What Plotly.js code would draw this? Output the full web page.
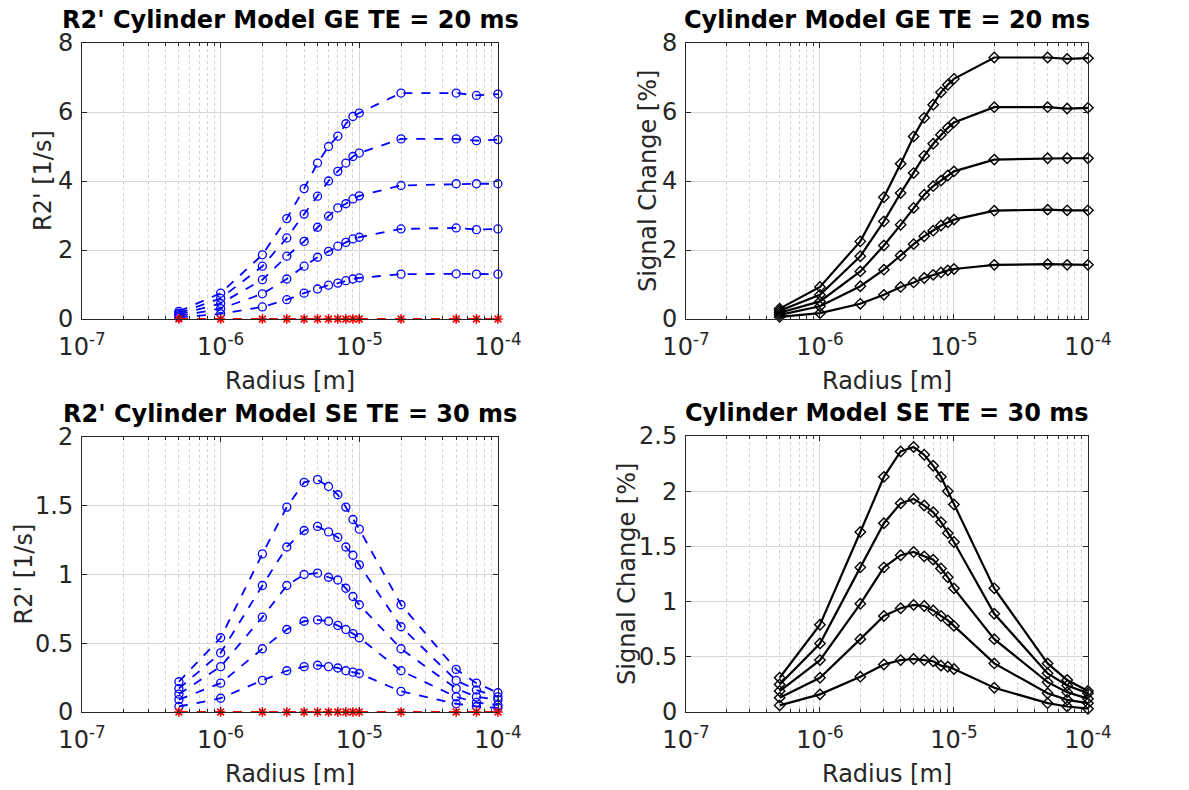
<!DOCTYPE html>
<html>
<head>
<meta charset="utf-8">
<script src="https://cdn.plot.ly/plotly-3.0.1.min.js"></script>
<style>html,body{margin:0;padding:0;background:#fff;}#chart{width:1189px;height:790px;}</style>
</head>
<body>
<div id="chart"></div>
<script>
// Radius values [m]
const radius = [5e-7, 1e-6, 2e-6, 3e-6, 4e-6, 5e-6, 6e-6, 7e-6, 8e-6, 9e-6, 1e-5, 2e-5, 5e-5, 7e-5, 1e-4];

// GE TE = 20 ms, R2' [1/s]
const geR2_1 = [0.05, 0.15, 0.35, 0.56, 0.75, 0.87, 0.98, 1.04, 1.11, 1.16, 1.19, 1.30, 1.31, 1.30, 1.30];
const geR2_2 = [0.09, 0.30, 0.73, 1.16, 1.53, 1.79, 1.96, 2.11, 2.22, 2.32, 2.37, 2.61, 2.64, 2.59, 2.61];
const geR2_3 = [0.13, 0.45, 1.14, 1.82, 2.25, 2.66, 2.98, 3.22, 3.34, 3.48, 3.57, 3.87, 3.92, 3.92, 3.92];
const geR2_4 = [0.17, 0.60, 1.53, 2.35, 3.04, 3.56, 4.00, 4.28, 4.52, 4.71, 4.81, 5.22, 5.22, 5.17, 5.20];
const geR2_5 = [0.22, 0.75, 1.86, 2.91, 3.78, 4.52, 5.00, 5.30, 5.66, 5.87, 5.97, 6.55, 6.55, 6.48, 6.52];
const geR2_ref = [0, 0, 0, 0, 0, 0, 0, 0, 0, 0, 0, 0, 0, 0, 0];

// GE TE = 20 ms, Signal change [%]
const geSig_1 = [0.06, 0.17, 0.44, 0.70, 0.93, 1.06, 1.19, 1.28, 1.35, 1.41, 1.45, 1.57, 1.59, 1.57, 1.57];
const geSig_2 = [0.12, 0.37, 0.95, 1.43, 1.84, 2.17, 2.40, 2.56, 2.71, 2.80, 2.88, 3.14, 3.17, 3.15, 3.15];
const geSig_3 = [0.18, 0.51, 1.38, 2.13, 2.73, 3.22, 3.60, 3.85, 4.01, 4.16, 4.28, 4.62, 4.66, 4.66, 4.66];
const geSig_4 = [0.24, 0.70, 1.82, 2.83, 3.65, 4.23, 4.73, 5.08, 5.34, 5.54, 5.70, 6.14, 6.14, 6.10, 6.12];
const geSig_5 = [0.30, 0.93, 2.25, 3.53, 4.50, 5.29, 5.83, 6.21, 6.57, 6.79, 6.96, 7.58, 7.58, 7.54, 7.56];

// SE TE = 30 ms, R2' [1/s]
const seR2_1 = [0.04, 0.10, 0.23, 0.30, 0.33, 0.34, 0.33, 0.32, 0.30, 0.29, 0.28, 0.15, 0.06, 0.04, 0.03];
const seR2_2 = [0.09, 0.21, 0.46, 0.60, 0.66, 0.67, 0.66, 0.63, 0.60, 0.57, 0.54, 0.30, 0.11, 0.07, 0.05];
const seR2_3 = [0.13, 0.33, 0.69, 0.92, 1.00, 1.01, 0.98, 0.96, 0.90, 0.84, 0.78, 0.46, 0.17, 0.11, 0.09];
const seR2_4 = [0.17, 0.43, 0.92, 1.20, 1.32, 1.35, 1.31, 1.27, 1.20, 1.14, 1.07, 0.62, 0.23, 0.16, 0.11];
const seR2_5 = [0.22, 0.54, 1.15, 1.49, 1.67, 1.69, 1.64, 1.58, 1.49, 1.40, 1.33, 0.78, 0.31, 0.21, 0.14];
const seR2_ref = [0, 0, 0, 0, 0, 0, 0, 0, 0, 0, 0, 0, 0, 0, 0];

// SE TE = 30 ms, Signal change [%]
const seSig_1 = [0.06, 0.16, 0.32, 0.43, 0.47, 0.48, 0.47, 0.46, 0.42, 0.41, 0.39, 0.22, 0.08, 0.05, 0.03];
const seSig_2 = [0.13, 0.31, 0.66, 0.87, 0.94, 0.97, 0.96, 0.92, 0.87, 0.83, 0.78, 0.44, 0.17, 0.11, 0.08];
const seSig_3 = [0.19, 0.47, 0.98, 1.31, 1.42, 1.45, 1.41, 1.38, 1.30, 1.22, 1.12, 0.66, 0.27, 0.18, 0.12];
const seSig_4 = [0.25, 0.62, 1.31, 1.71, 1.89, 1.93, 1.87, 1.81, 1.72, 1.62, 1.54, 0.89, 0.35, 0.24, 0.17];
const seSig_5 = [0.31, 0.79, 1.63, 2.13, 2.36, 2.40, 2.33, 2.23, 2.13, 2.00, 1.88, 1.12, 0.44, 0.29, 0.19];

const xTickVals = [1e-7, 1e-6, 1e-5, 1e-4];
const xTickText = ['10<sup>-7</sup>', '10<sup>-6</sup>', '10<sup>-5</sup>', '10<sup>-4</sup>'];

const titles = ["R2' Cylinder Model GE TE = 20 ms", "Cylinder Model GE TE = 20 ms",
                "R2' Cylinder Model SE TE = 30 ms", "Cylinder Model SE TE = 30 ms"];
const yTitles = ["R2' [1/s]", "Signal Change [%]", "R2' [1/s]", "Signal Change [%]"];
const xTitle = "Radius [m]";

const FONT = 'DejaVu Sans, Liberation Sans, sans-serif';
const TXT = '#262626';
const traces = [];

function blue(y, xa, ya) {
  return {x: radius, y: y, xaxis: xa, yaxis: ya, type: 'scatter', mode: 'lines+markers',
    line: {color: '#0000ff', width: 1.8, dash: 'dash'},
    marker: {symbol: 'circle-open', size: 8, color: '#0000ff', line: {width: 1.3}},
    cliponaxis: false, showlegend: false};
}
function red(y, xa, ya) {
  return {x: radius, y: y, xaxis: xa, yaxis: ya, type: 'scatter', mode: 'lines+markers',
    line: {color: '#ff0000', width: 1.8, dash: 'dash'},
    marker: {symbol: 'asterisk-open', size: 8, color: '#ff0000', line: {width: 1.6, color: '#ff0000'}},
    cliponaxis: false, showlegend: false};
}
function black(y, xa, ya) {
  return {x: radius, y: y, xaxis: xa, yaxis: ya, type: 'scatter', mode: 'lines+markers',
    line: {color: '#000000', width: 2.2},
    marker: {symbol: 'diamond-open', size: 8, color: '#000000', line: {width: 1.4}},
    cliponaxis: false, showlegend: false};
}

[geR2_1, geR2_2, geR2_3, geR2_4, geR2_5].forEach(s => traces.push(blue(s, 'x', 'y')));
traces.push(red(geR2_ref, 'x', 'y'));
[geSig_1, geSig_2, geSig_3, geSig_4, geSig_5].forEach(s => traces.push(black(s, 'x2', 'y2')));
[seR2_1, seR2_2, seR2_3, seR2_4, seR2_5].forEach(s => traces.push(blue(s, 'x3', 'y3')));
traces.push(red(seR2_ref, 'x3', 'y3'));
[seSig_1, seSig_2, seSig_3, seSig_4, seSig_5].forEach(s => traces.push(black(s, 'x4', 'y4')));

const W = 1189, H = 790;
const boxes = [
  {l: 82, r: 498, t: 43, b: 319, yt: 39},
  {l: 686, r: 1088, t: 43, b: 319, yt: 38},
  {l: 82, r: 498, t: 437, b: 712, yt: 59},
  {l: 686, r: 1088, t: 436, b: 712, yt: 59}
];
const yRanges = [[0, 8], [0, 8], [0, 2], [0, 2.5]];
const yDticks = [2, 2, 0.5, 0.5];

const layout = {
  width: W, height: H,
  margin: {l: 0, r: 0, t: 0, b: 0},
  paper_bgcolor: '#ffffff', plot_bgcolor: '#ffffff',
  font: {family: FONT, size: 24, color: TXT},
  showlegend: false,
  annotations: []
};

boxes.forEach((bx, i) => {
  const n = i === 0 ? '' : String(i + 1);
  layout['xaxis' + n] = {
    type: 'log', range: [-7, -3.9995],
    domain: [bx.l / W, bx.r / W],
    anchor: 'y' + n,
    tickvals: xTickVals, ticktext: xTickText,
    tickfont: {family: FONT, size: 24, color: TXT},
    ticklabelstandoff: 6,
    ticks: 'inside', ticklen: 5, tickcolor: TXT,
    showline: true, linecolor: TXT, linewidth: 1, mirror: 'ticks',
    showgrid: true, gridcolor: '#d6d6d6', gridwidth: 1,
    minor: {dtick: 'D1', showgrid: true, gridcolor: '#d2d2d2', griddash: 'dot', gridwidth: 1, ticks: 'inside', ticklen: 3, tickcolor: TXT},
    zeroline: false, fixedrange: true
  };
  layout['yaxis' + n] = {
    range: yRanges[i], dtick: yDticks[i], tick0: 0,
    domain: [1 - bx.b / H, 1 - bx.t / H],
    anchor: 'x' + n,
    tickfont: {family: FONT, size: 24, color: TXT},
    ticklabelstandoff: 3,
    ticks: 'inside', ticklen: 5, tickcolor: TXT,
    showline: true, linecolor: TXT, linewidth: 1, mirror: 'ticks',
    showgrid: true, gridcolor: '#d6d6d6', gridwidth: 1,
    zeroline: false, fixedrange: true
  };
  const cx = (bx.l + bx.r) / 2 / W;
  layout.annotations.push({
    text: '<b>' + titles[i] + '</b>', xref: 'paper', yref: 'paper',
    x: cx, y: 1 - (bx.t - 23) / H, xanchor: 'center', yanchor: 'middle',
    showarrow: false, font: {family: FONT, size: 24, color: '#000000'}
  });
  layout.annotations.push({
    text: xTitle, xref: 'paper', yref: 'paper',
    x: cx, y: 1 - (bx.b + 62) / H, xanchor: 'center', yanchor: 'middle',
    showarrow: false, font: {family: FONT, size: 24, color: TXT}
  });
  layout.annotations.push({
    text: yTitles[i], xref: 'paper', yref: 'paper',
    x: (bx.l - bx.yt) / W, y: 1 - (bx.t + bx.b) / 2 / H,
    xanchor: 'center', yanchor: 'middle', textangle: -90,
    showarrow: false, font: {family: FONT, size: 24, color: TXT}
  });
});

Plotly.newPlot('chart', traces, layout, {staticPlot: true, displayModeBar: false});
</script>
</body>
</html>
